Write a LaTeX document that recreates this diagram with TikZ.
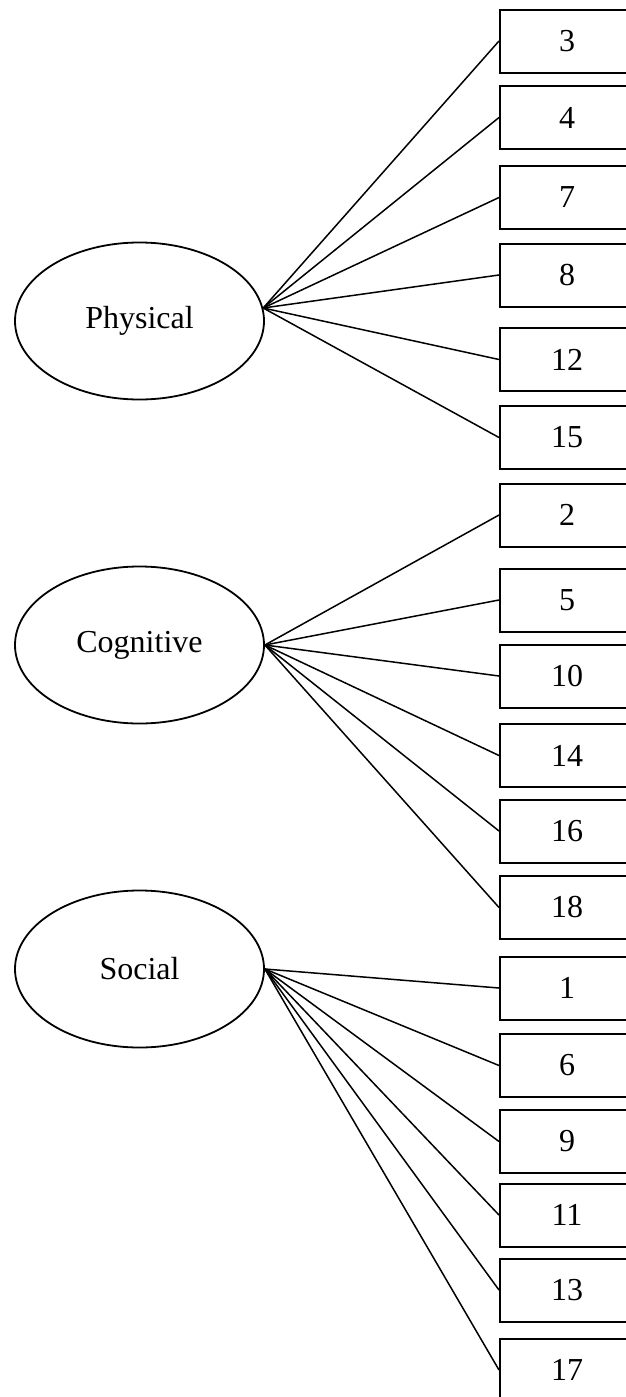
\documentclass[tikz,border=0pt]{standalone}
\usepackage{fontspec}
\setmainfont{Liberation Serif}
\usepackage{tikz}
\usetikzlibrary{shapes.geometric}
\tikzstyle{factor}=[ellipse,draw,line width=0.9pt,inner sep=0pt,minimum width=124.5pt,minimum height=78.5pt]
\tikzstyle{item}=[rectangle,draw,line width=1pt,inner sep=0pt,minimum width=67pt,minimum height=31.5pt]
\tikzstyle{load}=[line width=0.75pt]

\begin{document}
\begin{tikzpicture}[x=0.5pt,y=-0.5pt,font=\fontsize{16}{19}\selectfont]
\useasboundingbox (0,0) rectangle (626,1397);
\clip (0,0) rectangle (626,1397);
% factors
\node[factor] (phys) at (139.5,321) {Physical};
\node[factor] (cog) at (139.5,645) {Cognitive};
\node[factor] (soc) at (139.5,969) {Social};
% items
\node[item] (b3) at (567,41) {3};
\node[item] (b4) at (567,117.5) {4};
\node[item] (b7) at (567,197.5) {7};
\node[item] (b8) at (567,275) {8};
\node[item] (b12) at (567,359.5) {12};
\node[item] (b15) at (567,437.5) {15};
\node[item] (b2) at (567,515) {2};
\node[item] (b5) at (567,600) {5};
\node[item] (b10) at (567,676) {10};
\node[item] (b14) at (567,755.5) {14};
\node[item] (b16) at (567,831) {16};
\node[item] (b18) at (567,907.5) {18};
\node[item] (b1) at (567,988) {1};
\node[item] (b6) at (567,1065.5) {6};
\node[item] (b9) at (567,1141.5) {9};
\node[item] (b11) at (567,1215) {11};
\node[item] (b13) at (567,1290) {13};
\node[item] (b17) at (567,1370) {17};
% loadings
\draw[load] (phys.6) -- (b3.west);
\draw[load] (phys.6) -- (b4.west);
\draw[load] (phys.6) -- (b7.west);
\draw[load] (phys.6) -- (b8.west);
\draw[load] (phys.6) -- (b12.west);
\draw[load] (phys.6) -- (b15.west);
\draw[load] (cog.east) -- (b2.west);
\draw[load] (cog.east) -- (b5.west);
\draw[load] (cog.east) -- (b10.west);
\draw[load] (cog.east) -- (b14.west);
\draw[load] (cog.east) -- (b16.west);
\draw[load] (cog.east) -- (b18.west);
\draw[load] (soc.east) -- (b1.west);
\draw[load] (soc.east) -- (b6.west);
\draw[load] (soc.east) -- (b9.west);
\draw[load] (soc.east) -- (b11.west);
\draw[load] (soc.east) -- (b13.west);
\draw[load] (soc.east) -- (b17.west);
\end{tikzpicture}
\end{document}
